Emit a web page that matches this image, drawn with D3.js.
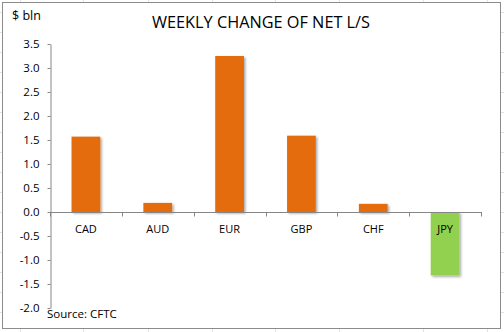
<!DOCTYPE html>
<html><head><meta charset="utf-8">
<script src="https://cdn.jsdelivr.net/npm/d3@7"></script>
<style>html,body{margin:0;padding:0;background:#fff;}svg{display:block;}</style>
</head><body>
<svg id="c" width="504" height="332"></svg>
<script>
const categories = ["CAD","AUD","EUR","GBP","CHF","JPY"];
const values = [1.57, 0.19, 3.25, 1.59, 0.17, -1.32];
const yTicks = [-2.0,-1.5,-1.0,-0.5,0.0,0.5,1.0,1.5,2.0,2.5,3.0,3.5];
const title = "WEEKLY CHANGE OF NET L/S";
const unitLabel = "$ bln";
const sourceLabel = "Source: CFTC";

const svg = d3.select("#c");
const W = 504, H = 332;
const font = "'Open Sans', sans-serif";

// faint spreadsheet grid behind chart
const bg = svg.append("g");
[20,83,148,212,275,339,423,487].forEach(x=>bg.append("line").attr("x1",x+0.5).attr("x2",x+0.5).attr("y1",0).attr("y2",H).attr("stroke","#e3e3e3"));
d3.range(12,H,20).forEach(y=>bg.append("line").attr("y1",y+0.5).attr("y2",y+0.5).attr("x1",0).attr("x2",W).attr("stroke","#e3e3e3"));
svg.append("rect").attr("x",2.5).attr("y",2.5).attr("width",498).attr("height",326)
  .attr("fill","#fff").attr("stroke","#8c8c8c").attr("stroke-width",1);

const defs = svg.append("defs");
const f = defs.append("filter").attr("id","sh").attr("x","-20%").attr("y","-20%").attr("width","150%").attr("height","150%");
f.append("feDropShadow").attr("dx",1.5).attr("dy",1.5).attr("stdDeviation",1.3).attr("flood-color","#000").attr("flood-opacity",0.35);

const x = d3.scaleBand().domain(categories).range([50,481]).paddingInner(0.6).paddingOuter(0.3);
const y = d3.scaleLinear().domain([-2,3.5]).range([308,44]);

// bars
svg.append("g").selectAll("rect").data(categories).join("rect")
  .attr("x",d=>x(d)).attr("width",x.bandwidth())
  .attr("y",(d,i)=>y(Math.max(0,values[i])))
  .attr("height",(d,i)=>Math.abs(y(values[i])-y(0)))
  .attr("fill",(d,i)=>values[i]<0?"#92D050":"#E46C0A")
  .attr("filter","url(#sh)");

// y axis
const ya = svg.append("g").attr("transform","translate(50.5,0)")
  .call(d3.axisLeft(y).tickValues(yTicks).tickFormat(d3.format(".1f")).tickSize(3).tickSizeOuter(0));
ya.select(".domain").attr("stroke","#868686");
ya.selectAll(".tick line").attr("stroke","#868686");
ya.selectAll(".tick text").attr("x",-11).attr("font-family",font).attr("font-size",11.5).attr("fill","#000");
ya.selectAll(".tick text").text(d=>d3.format(".1f")(d).replace("−","-"));

// x axis at zero
const step = x.step();
const xa = svg.append("g");
xa.append("line").attr("x1",50).attr("x2",481).attr("y1",y(0)+0.5).attr("y2",y(0)+0.5).attr("stroke","#868686");
d3.range(categories.length+1).forEach(i=>{
  const px = Math.round(50+i*step)+0.5;
  xa.append("line").attr("x1",px).attr("x2",px).attr("y1",y(0)).attr("y2",y(0)+4.5).attr("stroke","#868686");
});
xa.selectAll("text").data(categories).join("text")
  .attr("x",d=>x(d)+x.bandwidth()/2).attr("y",y(0)+21)
  .attr("text-anchor","middle").attr("font-family",font).attr("font-size",11).attr("fill","#000").text(d=>d);

svg.append("text").attr("x",261).attr("y",28).attr("text-anchor","middle")
  .attr("font-family",font).attr("font-size",16.3).attr("fill","#000").text(title);
svg.append("text").attr("x",12).attr("y",20).attr("font-family",font).attr("font-size",12.5).attr("fill","#000").text(unitLabel);
svg.append("text").attr("x",47).attr("y",318).attr("font-family",font).attr("font-size",11.5).attr("fill","#000").text(sourceLabel);
</script>
</body></html>
